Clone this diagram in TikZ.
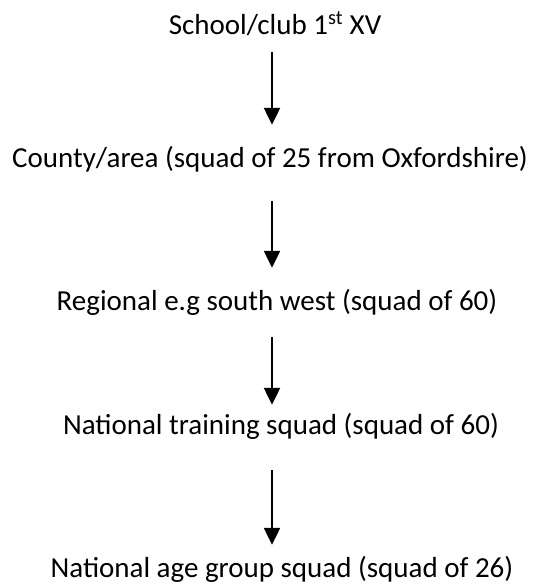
\documentclass[tikz,border=0pt]{standalone}
\usepackage{fontspec}
\setmainfont{Carlito}
\usetikzlibrary{arrows.meta}
\begin{document}
\begin{tikzpicture}[x=1pt,y=1pt,
  lbl/.style={font=\fontsize{29}{34}\selectfont, inner sep=0pt, text height=20pt, text depth=7pt, anchor=base},
  arr/.style={line width=2.3pt, -{Triangle[width=16pt,length=17pt]}}]
\useasboundingbox (0,0) rectangle (535,-584);
\coordinate (ax) at (272,0);
\node[lbl] (a) at (275,-34) {School/club 1\textsuperscript{st} XV};
\node[lbl] (b) at (270,-167) {County/area (squad of 25 from Oxfordshire)};
\node[lbl] (c) at (277,-310) {Regional e.g south west (squad of 60)};
\node[lbl] (d) at (281,-434) {National training squad (squad of 60)};
\node[lbl] (e) at (282,-577) {National age group squad (squad of 26)};
\draw[arr, shorten <=11pt, shorten >=22pt] (a.south -| ax) -- (b.north -| ax);
\draw[arr, shorten <=27pt, shorten >=22pt] (b.south -| ax) -- (c.north -| ax);
\draw[arr, shorten <=20pt, shorten >=9pt] (c.south -| ax) -- (d.north -| ax);
\draw[arr, shorten <=29pt, shorten >=12pt] (d.south -| ax) -- (e.north -| ax);
\end{tikzpicture}
\end{document}
